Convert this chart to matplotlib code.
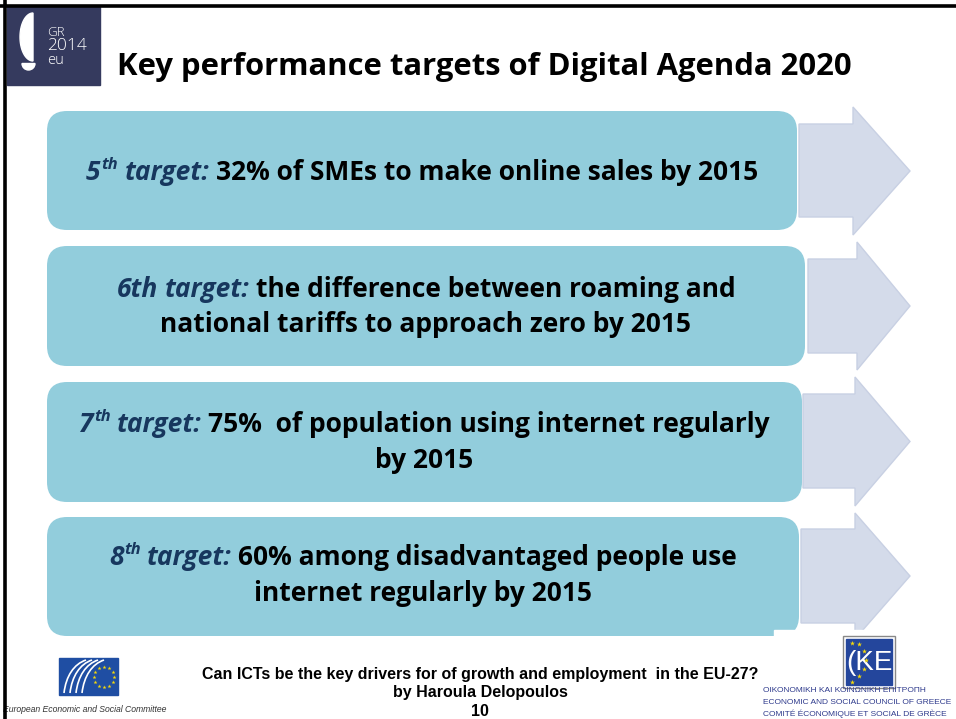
import numpy as np
import matplotlib
matplotlib.use("Agg")
import matplotlib.pyplot as plt
from matplotlib.patches import FancyBboxPatch, Rectangle, Polygon, Wedge
from matplotlib.path import Path
from matplotlib.patches import PathPatch

# ---------------- content ----------------
title = "Key performance targets of Digital Agenda 2020"
target_nums = ["5", "6th", "7", "8"]
target_sups = ["th", "", "th", "th"]
target_label = "target:"
target_line1 = ["32% of SMEs to make online sales by 2015",
                "the difference between roaming and",
                "75%  of population using internet regularly",
                "60% among disadvantaged people use"]
target_line2 = ["", "national tariffs to approach zero by 2015",
                "by 2015", "internet regularly by 2015"]
footer_lines = ["Can ICTs be the key drivers for of growth and employment  in the EU-27?",
                "by Haroula Delopoulos", "10"]
eesc_caption = "European Economic and Social Committee"
oke_lines = ["ΟΙΚΟΝΟΜΙΚΗ ΚΑΙ ΚΟΙΝΩΝΙΚΗ ΕΠΙΤΡΟΠΗ",
             "ECONOMIC AND SOCIAL COUNCIL OF GREECE",
             "COMITÉ ÉCONOMIQUE ET SOCIAL DE GRÈCE"]
logo_lines = ["GR", "2014", "eu"]

# ---------------- layout / style ----------------
W, H = 956, 719
BOX_C = "#92CDDC"
ARROW_C = "#D4DBEA"
ARROW_E = "#C8D0E3"
NAVY = "#17375E"
FONT = "Open Sans"

fig = plt.figure(figsize=(W / 100, H / 100), dpi=100)
ax = fig.add_axes([0, 0, 1, 1])
ax.set_xlim(0, W)
ax.set_ylim(H, 0)
ax.axis("off")
fig.patch.set_facecolor("white")
renderer = fig.canvas.get_renderer()


def fit_size(txt, width, **kw):
    t = ax.text(0, 0, txt, fontsize=10, **kw)
    w = t.get_window_extent(renderer).width
    t.remove()
    return 10 * width / w


# frame lines
ax.plot([0, W], [5.5, 5.5], color="black", lw=2.6, solid_capstyle="butt", zorder=5)
ax.plot([5.5, 5.5], [0, H], color="black", lw=2.6, solid_capstyle="butt", zorder=5)

# top-left logo
ax.add_patch(Rectangle((7, 7), 93, 78, color="#353A5E", zorder=3))
th = np.linspace(np.pi / 2, 3 * np.pi / 2, 40)
sail = np.column_stack([33 + 13 * np.cos(th), 37 - 24 * np.sin(th)])
ax.add_patch(Polygon(sail, closed=True, color="white", zorder=4))
ax.add_patch(Wedge((28.5, 63.5), 6.5, 0, 180, color="white", zorder=4))
for txt, yy, fs in zip(logo_lines, [32, 46.5, 61], [9.5, 12.5, 10.5]):
    ax.text(47, yy, txt, color="white", fontsize=fs, family="Open Sans",
            fontweight="light", ha="left", va="center", zorder=4)

tsz = fit_size(title, 736, family=FONT, fontweight="bold")
ax.text(117, 67, title, fontsize=tsz, family=FONT, fontweight="bold",
        ha="left", va="center", color="black", zorder=4)

# boxes & arrows
boxes = [(47, 111, 797, 230), (47, 246, 805, 366), (47, 382, 802, 502), (47, 517, 799, 636)]
arrows = [(799, 124, 217, 853, 107, 235, 910), (808, 259, 353, 857, 242, 370, 910),
          (803, 394, 488, 855, 377, 506, 910), (801, 529, 623, 855, 513, 639, 910)]
for (x0, y0, x1, y1) in boxes:
    ax.add_patch(FancyBboxPatch((x0, y0), x1 - x0, y1 - y0,
                                boxstyle="round,pad=0,rounding_size=20",
                                fc=BOX_C, ec="none", zorder=2))
for (bx, bt, bb, hx, ht, hb, tip) in arrows:
    pts = [(bx, bt), (hx, bt), (hx, ht), (tip, (ht + hb) / 2), (hx, hb), (hx, bb), (bx, bb)]
    ax.add_patch(Polygon(pts, closed=True, fc=ARROW_C, ec=ARROW_E, lw=1.0, zorder=1))
ax.add_patch(Rectangle((774, 630), W - 774, 12, color="white", zorder=3))


def rich_line(runs, xc, y, size):
    """runs: list of (text, kind, gap_before) ; draws centred at xc."""
    arts = []
    total = 0
    for txt, kind, gap in runs:
        if kind == "sup":
            t = ax.text(0, y, txt, fontsize=size * 0.62, family=FONT, fontweight="bold",
                        style="italic", color=NAVY, ha="left", va="baseline", zorder=4)
            dy = -size * 0.42 * 100 / 72
        elif kind == "lab":
            t = ax.text(0, y, txt, fontsize=size, family=FONT, fontweight="bold",
                        style="italic", color=NAVY, ha="left", va="baseline", zorder=4)
            dy = 0
        else:
            t = ax.text(0, y, txt, fontsize=size, family=FONT, fontweight="bold",
                        color="black", ha="left", va="baseline", zorder=4)
            dy = 0
        w = t.get_window_extent(renderer).width
        g = gap * size * 100 / 72
        arts.append((t, total + g, dy))
        total += g + w
    x = xc - total / 2
    for t, off, dy in arts:
        t.set_position((x + off, y + dy))


SZ = fit_size("5th target: " + target_line1[0], 690, family=FONT, fontweight="bold")
line_y = [(180, None), (297, 332), (432, 468), (565, 601)]
for i in range(4):
    xc = (boxes[i][0] + boxes[i][2]) / 2
    runs = [(target_nums[i], "lab", 0)]
    if target_sups[i]:
        runs.append((target_sups[i], "sup", 0.02))
    runs.append((target_label, "lab", 0.25))
    runs.append((target_line1[i], "body", 0.25))
    y1, y2 = line_y[i]
    rich_line(runs, xc, y1, SZ)
    if target_line2[i]:
        ax.text(xc, y2, target_line2[i], fontsize=SZ, family=FONT, fontweight="bold",
                color="black", ha="center", va="baseline", zorder=4)

# footer
fsz = fit_size(footer_lines[0], 554, family="Liberation Sans", fontweight="bold")
for txt, yy in zip(footer_lines, [674, 692, 711]):
    ax.text(480, yy, txt, fontsize=fsz, family="Liberation Sans", fontweight="bold",
            ha="center", va="center", color="black", zorder=4)

# EESC logo (bottom-left)
ax.add_patch(Rectangle((59, 658), 59, 37, color="#1F4EA3", zorder=3))
ang = np.linspace(0, 2 * np.pi, 12, endpoint=False)
ax.scatter(104 + 10 * np.cos(ang), 677 + 10 * np.sin(ang), marker="*", s=9,
           color="#F5D90A", linewidths=0, zorder=4)
for k in range(4):
    x0 = 64 + k * 6
    verts = [(x0, 693), (x0 + 2, 676), (x0 + 10, 664), (x0 + 22, 660)]
    ax.add_patch(PathPatch(Path(verts, [Path.MOVETO, Path.CURVE4, Path.CURVE4, Path.CURVE4]),
                           fc="none", ec="white", lw=1.2, zorder=4))
esz = fit_size(eesc_caption, 164, style="italic", family="Liberation Sans")
ax.text(3, 710, eesc_caption, fontsize=esz, style="italic",
        family="Liberation Sans", color="#333333",
        ha="left", va="center", zorder=4)

# OKE logo (bottom-right)
ax.add_patch(Rectangle((843, 636), 52, 52, fc="white", ec="#888888", lw=1.0, zorder=4))
ax.add_patch(Rectangle((846, 639), 46, 46, color="#24469C", zorder=4))
ax.text(869, 663, "(KE", fontsize=20, family="Liberation Sans", color="white",
        ha="center", va="center", zorder=5)
sx = [852, 859, 864, 866, 864, 859, 852]
sy = [643, 644, 651, 660, 669, 676, 682]
ax.scatter(sx, sy, marker="*", s=14, color="#F5D90A", linewidths=0, zorder=6)
osz = fit_size(oke_lines[1], 190, family="Liberation Sans")
for txt, yy in zip(oke_lines, [691, 702.5, 714]):
    ax.text(763, yy, txt, fontsize=osz, family="Liberation Sans",
            color="#2E3A8C", ha="left", va="center", zorder=4)

fig.savefig("out.png", dpi=100, facecolor="white")
